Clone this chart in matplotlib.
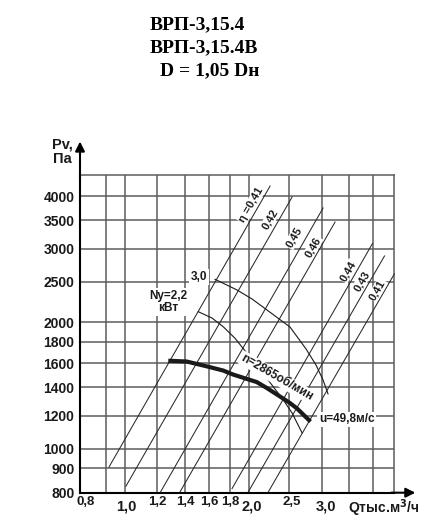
"""
Fan chart VRP-3,15.4 (pressure vs flow, log-log)
"""
import numpy as np
import matplotlib
matplotlib.use('Agg')
import matplotlib.pyplot as plt

# --- data (Q thousand m3/h, Pv Pa) ---
fan_q = [1.276, 1.414, 1.581, 1.734, 1.831, 2.090, 2.210, 2.380, 2.516, 2.617, 2.820]
fan_p = [1621, 1614, 1572, 1536, 1503, 1442, 1396, 1332, 1285, 1247, 1161]

pow30_q = [1.656, 1.872, 2.036, 2.213, 2.516, 2.751, 2.909, 3.025, 3.110]
pow30_p = [2534, 2390, 2274, 2141, 1950, 1729, 1583, 1458, 1351]

pow22_q = [1.509, 1.628, 1.734, 1.851, 1.994, 2.189, 2.424, 2.545, 2.691]
pow22_p = [2121, 2049, 1953, 1834, 1673, 1491, 1307, 1217, 1091]

# efficiency lines: start / end points and label positions
eta_names = ['\u03b7 =0,41', '0,42', '0,45', '0,46', '0,44', '0,43', '0,41']
eta_q0 = [0.917, 1.008, 1.222, 1.362, 1.821, 1.994, 2.230]
eta_p0 = [905, 815, 789, 789, 804, 790, 790]
eta_q1 = [2.251, 2.545, 3.025, 3.234, 3.985, 4.261, 4.5]
eta_p1 = [4226, 3979, 3747, 3469, 3084, 2880, 2609]
eta_lab_q = [2.024, 2.251, 2.573, 2.859, 3.477, 3.749, 4.098]
eta_lab_p = [3809, 3527, 3187, 3025, 2652, 2511, 2390]

xgrid = [0.9, 1.0, 1.2, 1.4, 1.6, 1.8, 2.0, 2.5, 3.0, 3.5, 4.0]
ygrid = [900, 1000, 1200, 1400, 1600, 1800, 2000, 2500, 3000, 3500, 4000]
xlabels = {1.0: '1,0', 1.2: '1,2', 1.4: '1,4', 1.6: '1,6', 1.8: '1,8',
           2.0: '2,0', 2.5: '2,5', 3.0: '3,0'}
big_x = [1.0, 2.0, 3.0]

QMIN, QMAX = 0.78, 4.5
PMIN, PMAX = 786, 4500

plt.rcParams['font.family'] = ['Liberation Sans', 'DejaVu Sans']
plt.rcParams['font.weight'] = 'bold'

fig = plt.figure(figsize=(4.38, 5.30), dpi=100)
ax = fig.add_axes([0.18265, 0.07038, 0.71758, 0.60019])
ax.set_xscale('log')
ax.set_yscale('log')
ax.set_xlim(QMIN, QMAX)
ax.set_ylim(PMIN, PMAX)

gcol = '#5c5c5c'
tcol = '#1a1a1a'
for x in xgrid:
    ax.axvline(x, color=gcol, lw=1.1, zorder=1)
for y in ygrid:
    ax.axhline(y, color=gcol, lw=1.1, zorder=1)

ax.set_yticks([PMIN] + ygrid)
ax.set_yticklabels(['800'] + [str(v) for v in ygrid])
ax.set_xticks([])
ax.minorticks_off()
ax.tick_params(axis='y', length=0, pad=4, labelsize=10, labelcolor=tcol)
for lab in ax.get_yticklabels():
    lab.set_fontweight('bold')

ax.spines['top'].set_color(gcol)
ax.spines['right'].set_color(gcol)
ax.spines['top'].set_linewidth(1.1)
ax.spines['right'].set_linewidth(1.1)
ax.spines['left'].set_linewidth(1.5)
ax.spines['bottom'].set_linewidth(1.5)

# axis arrows
ax.annotate('', xy=(0, 1.104), xytext=(0, 0.99), xycoords='axes fraction',
            arrowprops=dict(arrowstyle='-|>', color='black', lw=1.5,
                            mutation_scale=14, shrinkA=0, shrinkB=0),
            annotation_clip=False)
ax.annotate('', xy=(1.067, 0), xytext=(0.99, 0), xycoords='axes fraction',
            arrowprops=dict(arrowstyle='-|>', color='black', lw=1.5,
                            mutation_scale=14, shrinkA=0, shrinkB=0),
            annotation_clip=False)

# x tick labels
for q, txt in xlabels.items():
    big = q in big_x
    dx = {1.0: 1.5, 2.0: 2, 2.5: 2, 3.0: 3.5}.get(q, 0)
    ax.annotate(txt, xy=(q, 0), xycoords=('data', 'axes fraction'),
                xytext=(dx, -9.6 if big else -6.5), textcoords='offset points',
                ha='center', va='center', fontsize=10.5 if big else 9.5,
                fontweight='bold', color=tcol, annotation_clip=False)
ax.annotate('0,8', xy=(QMIN, 0), xycoords=('data', 'axes fraction'),
            xytext=(3.8, -6.8), textcoords='offset points', ha='center', va='center',
            fontsize=9.5, fontweight='bold', color=tcol, annotation_clip=False)
ax.annotate('Q\u0442\u044b\u0441.\u043c$^3$/\u0447', xy=(1, 0), xycoords='axes fraction',
            xytext=(-33, -11), textcoords='offset points', ha='left', va='center',
            fontsize=10, fontweight='bold', color=tcol, annotation_clip=False)
ax.annotate('Pv,\n\u041f\u0430', xy=(0, 1), xycoords='axes fraction',
            xytext=(-13, 6), textcoords='offset points', ha='center', va='bottom',
            fontsize=10.5, fontweight='bold', color=tcol, linespacing=1.05,
            annotation_clip=False)

# efficiency lines
for i in range(len(eta_names)):
    ax.plot([eta_q0[i], eta_q1[i]], [eta_p0[i], eta_p1[i]], color='#2a2a2a',
            lw=0.75, zorder=3, clip_on=False)
    ax.text(eta_lab_q[i], eta_lab_p[i], eta_names[i], rotation=60, ha='center',
            va='center', rotation_mode='anchor', fontsize=8, fontweight='bold',
            color=tcol, zorder=5,
            bbox=dict(facecolor='white', edgecolor='none', pad=0.5))

# power curves
ax.plot(pow30_q, pow30_p, color=tcol, lw=0.8, zorder=3)
ax.plot(pow22_q, pow22_p, color=tcol, lw=0.8, zorder=3)
ax.text(1.514, 2566, '3,0', ha='center', va='center', fontsize=8.5, fontweight='bold',
        color=tcol, zorder=5, bbox=dict(facecolor='white', edgecolor='none', pad=1.5))
ax.text(1.276, 2238, 'Ny=2,2\n\u043a\u0412\u0442', ha='center', va='center',
        fontsize=8.5, fontweight='bold', color=tcol, linespacing=1.05, zorder=5,
        bbox=dict(facecolor='white', edgecolor='none', pad=1.0))

# fan characteristic
ax.plot(fan_q, fan_p, color=tcol, lw=3.0, zorder=6, solid_capstyle='butt')
ax.text(2.34, 1478, 'n=2865\u043e\u0431/\u043c\u0438\u043d', rotation=-30, ha='center',
        va='center', rotation_mode='anchor', fontsize=8.5, fontweight='bold',
        color=tcol, zorder=5, bbox=dict(facecolor='white', edgecolor='none', pad=0.8))
ax.text(3.449, 1177, 'u=49,8\u043c/\u0441', ha='center', va='center', fontsize=8.5,
        fontweight='bold', color=tcol, zorder=5,
        bbox=dict(facecolor='white', edgecolor='none', pad=1.0))

# title
tfont = dict(family='Liberation Serif', fontsize=14, fontweight='bold', color='black',
             ha='left', va='center')
fig.text(150 / 438, 1 - 25 / 530, '\u0412\u0420\u041f-3,15.4', **tfont)
fig.text(150 / 438, 1 - 48 / 530, '\u0412\u0420\u041f-3,15.4\u0412', **tfont)
fig.text(160 / 438, 1 - 71 / 530, 'D = 1,05 D\u043d', **tfont)

fig.savefig('out.png', dpi=100)
